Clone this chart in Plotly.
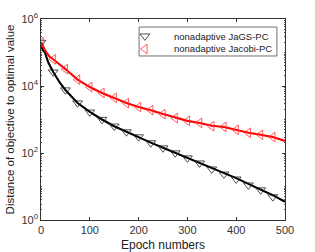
import plotly.graph_objects as go

# JaGS-PC (black) line
jags_x = [0, 3, 8, 15, 25, 39, 50, 75, 100, 125, 150, 175, 200, 225, 250, 275, 300,
          325, 350, 375, 400, 425, 450, 475, 500]
jags_y = [2.0e5, 1.2e5, 1.0e5, 5.0e4, 2.6e4, 1.23e4, 7.6e3, 3.1e3, 1.7e3, 1.0e3, 630, 426,
          300, 204, 144, 102, 72, 51, 35.5, 25, 17.8, 12, 8.3, 5.5, 3.5]
# JaGS-PC markers
jags_mx = [0, 25, 50, 75, 100, 125, 150, 175, 200, 225, 250, 275, 300, 325, 350, 375,
           400, 425, 450, 475]
jags_my = [2.0e5, 2.6e4, 7.6e3, 3.1e3, 1.66e3, 1.0e3, 630, 426, 302, 200, 141, 100, 71,
           50, 33, 23.4, 16.6, 11, 7.9, 4.9]

# Jacobi-PC (red) line
jac_x = [0, 5, 10, 18, 25, 50, 75, 100, 125, 150, 175, 200, 225, 250, 275, 300, 325,
         350, 375, 400, 425, 450, 475, 500]
jac_y = [2.0e5, 1.5e5, 1.05e5, 7.4e4, 6.3e4, 3.2e4, 1.55e4, 9.3e3, 6.2e3, 4.4e3, 3.1e3,
         2.35e3, 1.9e3, 1.45e3, 1.12e3, 910, 790, 650, 600, 490, 400, 350, 300, 230]
# Jacobi-PC markers
jac_mx = [0, 25, 50, 75, 100, 125, 150, 175, 200, 225, 250, 275, 300, 325, 350, 375,
          400, 425, 450, 475]
jac_my = [2.0e5, 6.3e4, 3.2e4, 1.55e4, 9.3e3, 6.2e3, 4.4e3, 3.1e3, 2.35e3, 1.9e3, 1.45e3,
          1.1e3, 910, 790, 630, 600, 490, 400, 350, 300]

series_names = ["nonadaptive JaGS-PC", "nonadaptive Jacobi-PC"]

ytick_vals = [1, 100, 1e4, 1e6]
ytick_text = ["10<sup>0</sup>", "10<sup>2</sup>", "10<sup>4</sup>", "10<sup>6</sup>"]
xtick_vals = [0, 100, 200, 300, 400, 500]

FONT = "Liberation Sans, Arial"
jags_marker = dict(symbol="triangle-down-open", size=8.5, color="#222222", line=dict(width=0.8))
jac_marker = dict(symbol="triangle-left-open", size=8.5, color="#ff3333", line=dict(width=0.8))

fig = go.Figure()
fig.add_trace(go.Scatter(x=jags_x, y=jags_y, mode="lines",
                         line=dict(color="black", width=2.1), showlegend=False))
fig.add_trace(go.Scatter(x=jac_x, y=jac_y, mode="lines",
                         line=dict(color="#ff0000", width=2.1), showlegend=False))
fig.add_trace(go.Scatter(x=jags_mx, y=jags_my, mode="markers", name=series_names[0],
                         marker=jags_marker, showlegend=False))
fig.add_trace(go.Scatter(x=jac_mx, y=jac_my, mode="markers", name=series_names[1],
                         marker=jac_marker, showlegend=False))

# Hand-built legend (compact, MATLAB-like) on an overlay axis spanning the plot area
leg_x0, leg_x1, leg_y0, leg_y1 = 0.402, 0.967, 0.816, 0.960
row_y = [0.915, 0.851]
fig.add_shape(type="rect", xref="x2", yref="y2", x0=leg_x0, x1=leg_x1, y0=leg_y0, y1=leg_y1,
              line=dict(color="#333333", width=0.7), fillcolor="white", layer="below")
fig.add_trace(go.Scatter(x=[0.426], y=[row_y[0]], xaxis="x2", yaxis="y2", mode="markers",
                         marker=jags_marker, showlegend=False, hoverinfo="skip"))
fig.add_trace(go.Scatter(x=[0.426], y=[row_y[1]], xaxis="x2", yaxis="y2", mode="markers",
                         marker=jac_marker, showlegend=False, hoverinfo="skip"))
for name, yy in zip(series_names, row_y):
    fig.add_annotation(x=0.537, y=yy, xref="x2", yref="y2", text=name, showarrow=False,
                       xanchor="left", yanchor="middle",
                       font=dict(family=FONT, size=9.5, color="#222222"))

axis_common = dict(showline=True, linecolor="#333333", linewidth=0.7, mirror="ticks",
                   ticks="inside", ticklen=3, tickcolor="#333333", showgrid=False,
                   zeroline=False, automargin=False,
                   tickfont=dict(family=FONT, size=11, color="#333333"))

fig.update_layout(
    width=315, height=252,
    margin=dict(l=41, r=30, t=19, b=32),
    paper_bgcolor="white", plot_bgcolor="white",
    font=dict(family=FONT, size=12, color="#222222"),
    showlegend=False,
    xaxis=dict(range=[0, 500], tickvals=xtick_vals,
               title=dict(text="Epoch numbers", standoff=5, font=dict(size=12)),
               **axis_common),
    yaxis=dict(type="log", range=[0, 6], tickvals=ytick_vals, ticktext=ytick_text,
               minor=dict(ticks="inside", ticklen=1.5, tickcolor="#555555", dtick="D1",
                          showgrid=False),
               title=dict(text="Distance of objective to optimal value", standoff=4,
                          font=dict(size=11.5)),
               **axis_common),
    xaxis2=dict(overlaying="x", range=[0, 1], visible=False, fixedrange=True),
    yaxis2=dict(overlaying="y", range=[0, 1], visible=False, fixedrange=True),
)

fig.write_html("out.html", config={"displayModeBar": False},
               post_script="document.body.style.margin='0';document.body.style.overflow='hidden';")
